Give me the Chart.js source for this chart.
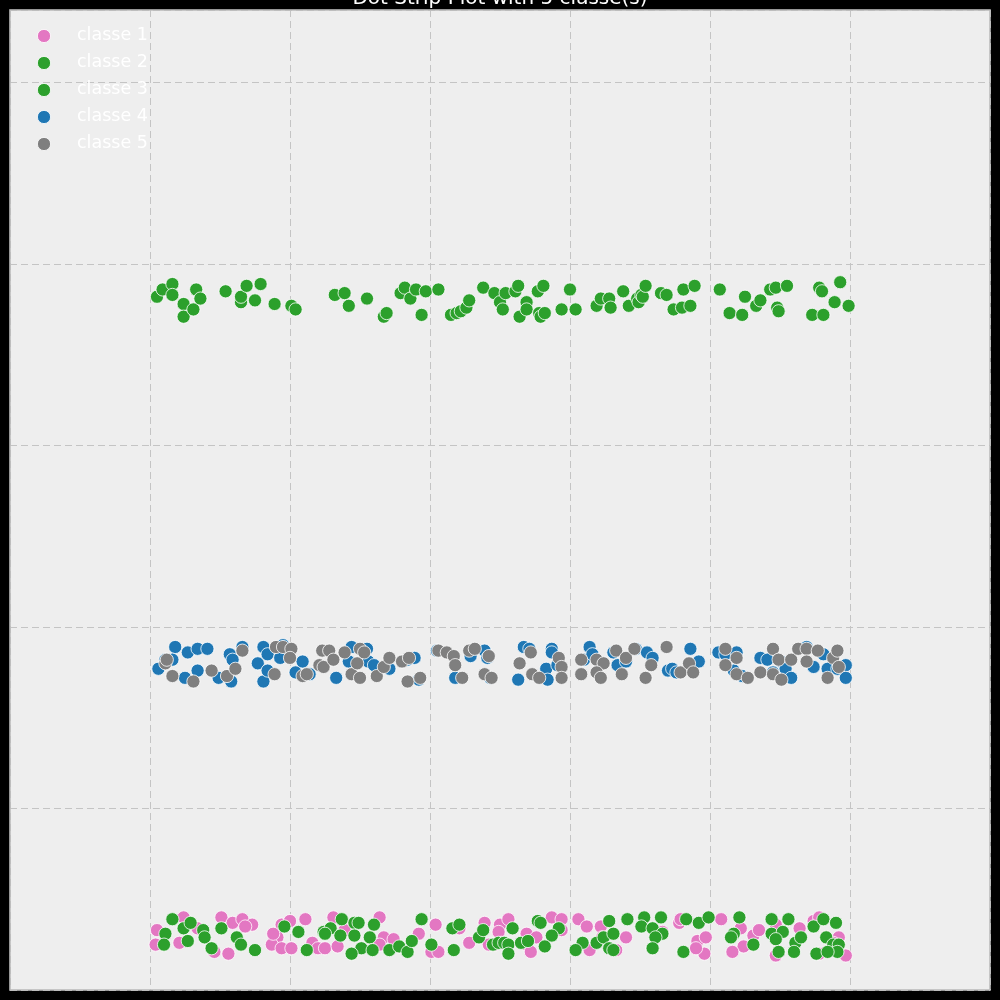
<!DOCTYPE html>
<html lang="en">
<head>
<meta charset="UTF-8">
<title>Dot Strip Plot</title>
<script src="https://cdn.jsdelivr.net/npm/chart.js"></script>
<style>
  html, body { margin: 0; padding: 0; background: #000; }
  #wrap { width: 1000px; height: 1000px; }
</style>
</head>
<body>
<div id="wrap"><canvas id="strip"></canvas></div>

<script>
// Data
const classNames = ['classe 1', 'classe 2', 'classe 3', 'classe 4', 'classe 5'];
const classColors = ['#e377c2', '#2ca02c', '#2ca02c', '#1f77b4', '#7f7f7f'];
const chartTitle = 'Dot Strip Plot with 5 classe(s)';

// classe 1 (pink, bottom strip)
const c1x = [0.05,0.04,0.24,0.34,0.21,0.51,0.59,0.66,0.73,0.68,0.46,0.56,0.91,0.87,0.94,1.00,1.11,0.94,1.01,1.16,1.20,0.88,1.31,1.39,1.25,1.34,1.64,1.67,1.74,1.64,1.92,2.04,2.01,2.06,2.21,2.28,2.39,2.42,2.50,2.49,2.46,2.56,2.51,2.69,2.69,2.72,2.76,2.87,2.94,2.94,3.06,3.12,3.14,3.22,3.23,3.33,3.40,3.59,3.66,3.78,3.79,4.08,3.91,3.97,3.96,3.90,4.22,4.31,4.35,4.24,4.16,4.47,4.64,4.49,4.47,4.74,4.78,4.83,4.92,4.97,4.78,4.88];
const c1y = [0.33,0.25,0.40,0.34,0.26,0.40,0.37,0.39,0.36,0.35,0.21,0.20,0.29,0.25,0.36,0.38,0.39,0.23,0.23,0.26,0.23,0.31,0.40,0.33,0.23,0.24,0.40,0.29,0.28,0.25,0.31,0.36,0.21,0.21,0.34,0.26,0.37,0.25,0.36,0.32,0.25,0.39,0.26,0.31,0.25,0.21,0.29,0.40,0.39,0.33,0.39,0.35,0.22,0.35,0.29,0.22,0.29,0.23,0.32,0.37,0.39,0.39,0.27,0.29,0.20,0.23,0.34,0.30,0.33,0.24,0.21,0.36,0.34,0.21,0.19,0.38,0.40,0.29,0.29,0.19,0.20,0.26];

// classe 2 (green, bottom strip)
const c2x = [0.16,0.11,0.10,0.24,0.29,0.27,0.38,0.39,0.44,0.51,0.62,0.65,0.75,0.96,1.06,1.12,1.24,1.37,1.29,1.25,1.36,1.46,1.49,1.46,1.60,1.57,1.51,1.44,1.59,1.71,1.78,1.84,1.87,1.94,2.01,2.16,2.21,2.17,2.35,2.38,2.45,2.49,2.59,2.53,2.56,2.56,2.65,2.70,2.77,2.79,2.92,2.87,2.82,3.09,3.04,3.19,3.24,3.28,3.31,3.28,3.31,3.41,3.53,3.51,3.65,3.59,3.66,3.61,3.59,3.83,3.92,3.99,3.81,4.21,4.17,4.15,4.31,4.44,4.56,4.44,4.52,4.47,4.49,4.61,4.65,4.60,4.74,4.81,4.90,4.83,4.88,4.92,4.76,4.91,4.84];
const c2y = [0.39,0.31,0.25,0.34,0.37,0.27,0.33,0.29,0.23,0.34,0.29,0.25,0.22,0.35,0.32,0.22,0.32,0.39,0.34,0.31,0.30,0.37,0.37,0.30,0.36,0.29,0.23,0.20,0.22,0.22,0.24,0.21,0.27,0.39,0.25,0.34,0.36,0.22,0.29,0.33,0.25,0.26,0.34,0.26,0.25,0.20,0.26,0.27,0.38,0.37,0.34,0.30,0.24,0.26,0.22,0.26,0.29,0.38,0.31,0.23,0.22,0.39,0.40,0.35,0.40,0.34,0.31,0.29,0.23,0.39,0.37,0.40,0.21,0.40,0.31,0.29,0.25,0.39,0.39,0.31,0.32,0.28,0.21,0.26,0.29,0.21,0.35,0.39,0.37,0.29,0.25,0.25,0.20,0.21,0.21];

// classe 3 (green, top strip)
const c3x = [0.05,0.09,0.16,0.16,0.24,0.24,0.31,0.33,0.36,0.54,0.65,0.65,0.69,0.75,0.79,0.89,1.01,1.04,1.32,1.39,1.42,1.55,1.67,1.69,1.79,1.82,1.86,1.90,1.94,1.97,2.06,2.15,2.19,2.22,2.26,2.28,2.38,2.46,2.50,2.52,2.54,2.61,2.63,2.64,2.69,2.69,2.77,2.78,2.79,2.81,2.82,2.94,3.00,3.04,3.19,3.22,3.28,3.29,3.38,3.42,3.48,3.49,3.51,3.52,3.54,3.65,3.69,3.74,3.80,3.81,3.86,3.89,4.07,4.14,4.23,4.25,4.33,4.36,4.43,4.47,4.48,4.49,4.55,4.73,4.78,4.80,4.81,4.89,4.93,4.99];
const c3y = [3.82,3.86,3.89,3.83,3.78,3.71,3.75,3.86,3.81,3.85,3.79,3.82,3.88,3.80,3.89,3.78,3.77,3.75,3.83,3.84,3.77,3.81,3.71,3.73,3.84,3.87,3.81,3.86,3.72,3.85,3.86,3.72,3.73,3.74,3.76,3.80,3.87,3.84,3.79,3.75,3.84,3.85,3.88,3.71,3.79,3.75,3.85,3.73,3.71,3.88,3.73,3.75,3.86,3.75,3.77,3.81,3.81,3.76,3.85,3.77,3.81,3.79,3.83,3.82,3.88,3.84,3.83,3.75,3.76,3.86,3.77,3.88,3.86,3.73,3.72,3.82,3.77,3.80,3.86,3.87,3.76,3.74,3.88,3.72,3.87,3.85,3.72,3.79,3.90,3.77];

// classe 4 (blue, middle strip)
const c4x = [0.06,0.11,0.18,0.16,0.25,0.27,0.34,0.34,0.41,0.49,0.58,0.57,0.59,0.66,0.77,0.81,0.81,0.84,0.84,0.93,0.95,1.04,1.09,1.14,1.33,1.42,1.44,1.55,1.56,1.60,1.71,1.84,1.89,1.92,2.05,2.18,2.29,2.39,2.41,2.43,2.63,2.67,2.71,2.83,2.84,2.87,2.87,2.91,3.10,3.14,3.16,3.31,3.34,3.40,3.47,3.55,3.59,3.70,3.73,3.76,3.86,3.92,4.06,4.11,4.17,4.19,4.23,4.36,4.41,4.45,4.51,4.54,4.58,4.69,4.74,4.81,4.84,4.91,4.97,4.97];
const c4y = [1.77,1.82,1.89,1.82,1.72,1.86,1.76,1.88,1.88,1.72,1.70,1.85,1.82,1.89,1.80,1.70,1.89,1.85,1.76,1.83,1.90,1.75,1.81,1.74,1.72,1.81,1.89,1.88,1.81,1.79,1.77,1.82,1.83,1.71,1.87,1.72,1.84,1.87,1.83,1.72,1.71,1.89,1.88,1.77,1.71,1.88,1.86,1.79,1.82,1.89,1.85,1.86,1.79,1.81,1.88,1.86,1.83,1.76,1.77,1.75,1.88,1.81,1.86,1.85,1.76,1.86,1.73,1.83,1.82,1.75,1.81,1.77,1.72,1.89,1.78,1.85,1.77,1.77,1.79,1.72];

// classe 5 (gray, middle strip)
const c5x = [0.11,0.12,0.16,0.31,0.44,0.55,0.61,0.66,0.89,0.90,0.95,1.01,1.00,1.09,1.12,1.21,1.24,1.23,1.28,1.31,1.39,1.44,1.48,1.50,1.53,1.50,1.62,1.67,1.71,1.80,1.85,1.84,1.93,2.06,2.12,2.17,2.18,2.23,2.28,2.32,2.39,2.44,2.42,2.64,2.72,2.73,2.78,2.92,2.94,2.94,3.08,3.08,3.19,3.24,3.19,3.22,3.33,3.40,3.46,3.37,3.58,3.54,3.69,3.79,3.85,3.88,4.11,4.19,4.11,4.19,4.27,4.36,4.45,4.45,4.49,4.51,4.58,4.63,4.69,4.69,4.77,4.84,4.88,4.91,4.92];
const c5y = [1.80,1.82,1.73,1.70,1.76,1.73,1.77,1.87,1.74,1.89,1.89,1.88,1.83,1.73,1.74,1.79,1.78,1.87,1.87,1.82,1.86,1.74,1.80,1.88,1.86,1.72,1.73,1.78,1.83,1.81,1.83,1.70,1.72,1.87,1.86,1.84,1.79,1.72,1.87,1.88,1.74,1.72,1.84,1.80,1.86,1.74,1.72,1.83,1.78,1.72,1.82,1.74,1.82,1.80,1.75,1.72,1.87,1.83,1.88,1.74,1.79,1.72,1.89,1.75,1.80,1.75,1.88,1.83,1.79,1.74,1.72,1.75,1.88,1.74,1.82,1.71,1.82,1.88,1.88,1.81,1.87,1.72,1.83,1.87,1.78];

const xSeries = [c1x, c2x, c3x, c4x, c5x];
const ySeries = [c1y, c2y, c3y, c4y, c5y];

// Build datasets
const datasets = classNames.map((name, i) => ({
  label: name,
  data: xSeries[i].map((x, k) => ({ x: x, y: ySeries[i][k] })),
  backgroundColor: classColors[i],
  borderColor: '#ffffff',
  borderWidth: 0.8,
  pointRadius: 6.6,
  pointHoverRadius: 6.6,
  order: classNames.length - i   // later classes drawn on top
}));

// plot background, frame, title, inner legend
const decor = {
  id: 'decor',
  beforeDraw(chart) {
    const { ctx, chartArea: a } = chart;
    ctx.save();
    ctx.fillStyle = '#eeeeee';
    ctx.fillRect(a.left, a.top, a.right - a.left, a.bottom - a.top);
    ctx.restore();
  },
  afterDraw(chart) {
    const { ctx, chartArea: a } = chart;
    ctx.save();
    ctx.strokeStyle = '#bcbcbc';
    ctx.lineWidth = 1.6;
    ctx.strokeRect(a.left, a.top, a.right - a.left, a.bottom - a.top);

    // title, partly off the top of the canvas
    ctx.fillStyle = '#ffffff';
    ctx.font = '20px "DejaVu Sans"';
    ctx.textAlign = 'center';
    ctx.textBaseline = 'alphabetic';
    ctx.fillText(chartTitle, 500, 4);

    // legend
    ctx.font = '17.5px "DejaVu Sans"';
    ctx.textAlign = 'left';
    ctx.textBaseline = 'middle';
    classNames.forEach((name, i) => {
      const y = 36 + i * 27;
      ctx.beginPath();
      ctx.arc(44, y, 6.6, 0, Math.PI * 2);
      ctx.fillStyle = classColors[i];
      ctx.fill();
      ctx.lineWidth = 0.8;
      ctx.strokeStyle = '#ffffff';
      ctx.stroke();
      ctx.fillStyle = '#ffffff';
      ctx.fillText(name, 77, y - 1);
    });
    ctx.restore();
  }
};

const gridStyle = {
  color: '#c4c4c4',
  lineWidth: 1,
  drawTicks: false,
  tickBorderDash: [7, 4]
};

new Chart(document.getElementById('strip'), {
  type: 'scatter',
  data: { datasets: datasets },
  options: {
    responsive: true,
    maintainAspectRatio: false,
    animation: false,
    layout: { padding: 10 },
    plugins: {
      legend: { display: false },
      title: { display: false },
      tooltip: { enabled: false }
    },
    scales: {
      x: {
        type: 'linear', min: -1, max: 6,
        ticks: { display: false, stepSize: 1 },
        grid: gridStyle,
        border: { display: false, dash: [7, 4] }
      },
      y: {
        type: 'linear', min: 0, max: 5.4,
        ticks: { display: false, stepSize: 1 },
        grid: gridStyle,
        border: { display: false, dash: [7, 4] }
      }
    }
  },
  plugins: [decor]
});
</script>
</body>
</html>
